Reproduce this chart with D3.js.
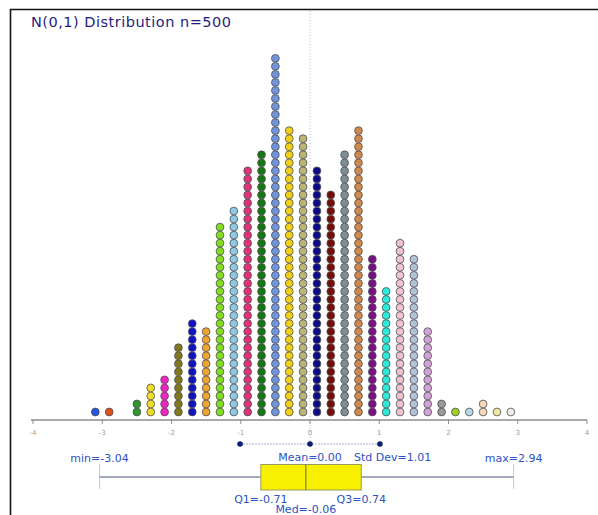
<!DOCTYPE html>
<html>
<head>
<meta charset="utf-8">
<script src="https://cdn.jsdelivr.net/npm/d3@7"></script>
<style>
  html, body { margin: 0; padding: 0; background: #fff; }
  svg { display: block; font-family: "DejaVu Sans", Verdana, sans-serif; }
</style>
</head>
<body>
<svg id="chart" width="598" height="515"></svg>
<script>
let width = 598,
    height = 515;

// bin centres (bins 0.2 wide), dot counts and colours
const binCenters = [-3.1, -2.9, -2.5, -2.3, -2.1, -1.9, -1.7, -1.5, -1.3, -1.1,
                    -0.9, -0.7, -0.5, -0.3, -0.1, 0.1, 0.3, 0.5, 0.7, 0.9,
                    1.1, 1.3, 1.5, 1.7, 1.9, 2.1, 2.3, 2.5, 2.7, 2.9];
const binCounts = [1, 1, 2, 4, 5, 9, 12, 11, 24, 26,
                   31, 33, 45, 36, 35, 31, 28, 33, 36, 20,
                   16, 22, 20, 11, 2, 1, 1, 2, 1, 1];
const binColors = ["#2457dc", "#e04e1c", "#2a982a", "#f0dc2c", "#ec24c8", "#7c7a1e",
                   "#1212c2", "#f0a232", "#86dc20", "#8ccae2", "#e2307c", "#127812",
                   "#6e94de", "#f4d012", "#bab67a", "#0c0c88", "#780c0c", "#7e8e98",
                   "#cc8a4c", "#781282", "#2ee8da", "#f0c2d2", "#b2c2d8", "#d2a2da",
                   "#9a9a9a", "#a2d022", "#b8d8e6", "#f4d8b8", "#f0e8a0", "#ececec"];

const axisTicks = [-4, -3, -2, -1, 0, 1, 2, 3, 4];

// summary statistics
const minVal = -3.04, maxVal = 2.94;
const q1 = -0.71, med = -0.06, q3 = 0.74;
const meanVal = 0.0, sdVal = 1.01;

const title = "N(0,1) Distribution n=500";
const labelColor = "#2b52c6";

let svg = d3.select("#chart");

let x = d3.scaleLinear().domain([-4, 4]).range([33, 587]);
let y = d3.scaleLinear().domain([0, 44]).range([412, 58.3]);
const axisY = 420;

// frame (left and top only)
svg.append("line")
    .attr("x1", 10.5).attr("x2", 10.5)
    .attr("y1", 9).attr("y2", height)
    .attr("stroke", "#111").attr("stroke-width", 1.6);
svg.append("line")
    .attr("x1", 10).attr("x2", width)
    .attr("y1", 9.5).attr("y2", 9.5)
    .attr("stroke", "#111").attr("stroke-width", 1.6);

// title
svg.append("text")
    .attr("x", 31).attr("y", 27)
    .attr("font-size", "14.5px")
    .attr("fill", "#1e1e7e")
    .attr("textLength", 200)
    .text(title);

// mean reference line (dotted)
svg.append("line")
    .attr("x1", x(meanVal)).attr("x2", x(meanVal))
    .attr("y1", 11).attr("y2", 444)
    .attr("stroke", "#b8c4d8")
    .attr("stroke-width", 1)
    .attr("stroke-dasharray", "1,2");

// dots
let dots = [];
binCenters.forEach((c, i) => {
    for (let k = 0; k < binCounts[i]; k++) {
        dots.push({ v: c, k: k, color: binColors[i] });
    }
});

svg.append("g")
    .selectAll("circle")
    .data(dots)
    .enter()
    .append("circle")
    .attr("cx", (d) => x(d.v))
    .attr("cy", (d) => y(d.k))
    .attr("r", 3.9)
    .attr("fill", (d) => d.color)
    .attr("stroke", "#505050")
    .attr("stroke-width", 0.8);

// axis
svg.append("line")
    .attr("x1", x(-4) - 2).attr("x2", x(4))
    .attr("y1", axisY).attr("y2", axisY)
    .attr("stroke", "#555").attr("stroke-width", 1);

svg.append("g")
    .selectAll("line")
    .data(axisTicks)
    .enter()
    .append("line")
    .attr("x1", (d) => x(d)).attr("x2", (d) => x(d))
    .attr("y1", axisY).attr("y2", axisY + 4)
    .attr("stroke", "#777").attr("stroke-width", 0.8);

svg.append("g")
    .selectAll("text")
    .data(axisTicks)
    .enter()
    .append("text")
    .attr("x", (d) => x(d))
    .attr("y", axisY + 15)
    .attr("text-anchor", "middle")
    .attr("font-size", "7px")
    .attr("fill", "#9a9a9a")
    .text((d) => d);

// mean +/- sd
const sdY = 444;
svg.append("line")
    .attr("x1", x(meanVal - sdVal)).attr("x2", x(meanVal + sdVal))
    .attr("y1", sdY).attr("y2", sdY)
    .attr("stroke", "#aab4cc")
    .attr("stroke-width", 1)
    .attr("stroke-dasharray", "2,1");
svg.append("g")
    .selectAll("circle")
    .data([meanVal - sdVal, meanVal, meanVal + sdVal])
    .enter()
    .append("circle")
    .attr("cx", (d) => x(d))
    .attr("cy", sdY)
    .attr("r", 2.8)
    .attr("fill", "#0e1e6e");

svg.append("text")
    .attr("x", x(meanVal)).attr("y", 461)
    .attr("text-anchor", "middle")
    .attr("font-size", "11px")
    .attr("fill", labelColor)
    .text("Mean=" + meanVal.toFixed(2));
svg.append("text")
    .attr("x", 354).attr("y", 461)
    .attr("font-size", "11px")
    .attr("fill", labelColor)
    .text("Std Dev=" + sdVal.toFixed(2));

// box plot
const boxTop = 464.5, boxBottom = 490, midY = 477;
svg.append("line")
    .attr("x1", x(minVal)).attr("x2", x(q1))
    .attr("y1", midY).attr("y2", midY)
    .attr("stroke", "#46567a").attr("stroke-width", 1);
svg.append("line")
    .attr("x1", x(q3)).attr("x2", x(maxVal))
    .attr("y1", midY).attr("y2", midY)
    .attr("stroke", "#46567a").attr("stroke-width", 1);
[minVal, maxVal].forEach((v) => {
    svg.append("line")
        .attr("x1", x(v)).attr("x2", x(v))
        .attr("y1", boxTop).attr("y2", boxBottom - 1)
        .attr("stroke", "#8a94a8")
        .attr("stroke-width", 1)
        .attr("stroke-dasharray", "1,1");
});
svg.append("rect")
    .attr("x", x(q1)).attr("y", boxTop)
    .attr("width", x(q3) - x(q1))
    .attr("height", boxBottom - boxTop)
    .attr("fill", "#f7f000")
    .attr("stroke", "#9a9a60")
    .attr("stroke-width", 1);
svg.append("line")
    .attr("x1", x(med)).attr("x2", x(med))
    .attr("y1", boxTop).attr("y2", boxBottom)
    .attr("stroke", "#6a6a40").attr("stroke-width", 1);

// box labels
const boxLabels = [
    { text: "min=" + minVal.toFixed(2), v: minVal, y: 462 },
    { text: "max=" + maxVal.toFixed(2), v: maxVal, y: 462 },
    { text: "Q1=" + q1.toFixed(2), v: q1, y: 503 },
    { text: "Q3=" + q3.toFixed(2), v: q3, y: 503 },
    { text: "Med=" + med.toFixed(2), v: med, y: 513 },
];
svg.append("g")
    .selectAll("text")
    .data(boxLabels)
    .enter()
    .append("text")
    .attr("x", (d) => x(d.v))
    .attr("y", (d) => d.y)
    .attr("text-anchor", "middle")
    .attr("font-size", "11px")
    .attr("fill", labelColor)
    .text((d) => d.text);
</script>
</body>
</html>
